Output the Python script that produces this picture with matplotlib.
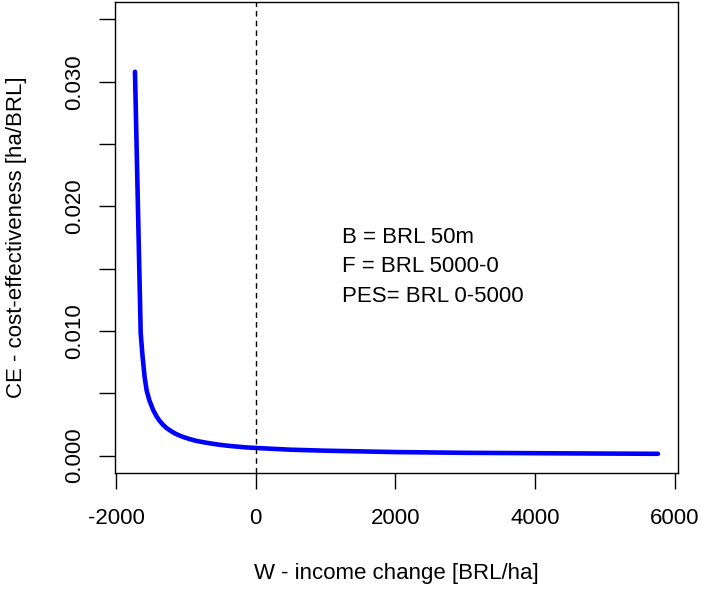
import matplotlib
matplotlib.use("Agg")
import matplotlib.pyplot as plt

plt.rcParams['font.family'] = ['Liberation Sans', 'DejaVu Sans']

# income change W [BRL/ha] and cost-effectiveness CE [ha/BRL]
income_change = [-1728, -1646, -1620, -1590, -1560, -1520, -1466, -1420, -1380, -1330,
                 -1274, -1200, -1150, -1100, -1036, -950, -850, -750, -653, -550,
                 -450, -350, -271, -150, 0, 500, 1000, 2000, 3000, 4000, 5000, 5760]
cost_eff = [0.0308, 0.0098, 0.0080, 0.0063, 0.0052, 0.0044, 0.00364, 0.00315, 0.00282,
            0.00249, 0.0022, 0.00192, 0.00176, 0.00163, 0.00149, 0.00133, 0.00118,
            0.00107, 0.00098, 0.00089, 0.00082, 0.00076, 0.00072, 0.00066, 0.00061,
            0.00047, 0.00039, 0.00028, 0.00022, 0.00019, 0.00016, 0.00014]

x_ticks = [-2000, 0, 2000, 4000, 6000]
y_ticks = [0.000, 0.005, 0.010, 0.015, 0.020, 0.025, 0.030, 0.035]
y_labels = ["0.000", "", "0.010", "", "0.020", "", "0.030", ""]
notes = ["B = BRL 50m", "F = BRL 5000-0", "PES= BRL 0-5000"]

fig = plt.figure(figsize=(7.01, 5.93), dpi=100)
ax = fig.add_axes([115 / 701, 1 - 473 / 593, (678 - 115) / 701, (473 - 2) / 593])

ax.plot(income_change, cost_eff, color='#0000FF', lw=3.3,
        solid_capstyle='round', solid_joinstyle='round')
ax.axvline(0, color='black', lw=1.0, ls=(0, (4, 3)))

# R-style limits: 4% padding on each side
ax.set_xlim(-2014, 6047)
ax.set_ylim(-0.0014, 0.0364)

ax.set_xticks(x_ticks)
ax.set_xticklabels([str(t) for t in x_ticks])
ax.set_yticks(y_ticks)
ax.set_yticklabels(y_labels, rotation=90, va='center')

ax.tick_params(axis='both', length=11.5, width=1.0, labelsize=16, direction='out')
ax.tick_params(axis='x', pad=14)
ax.tick_params(axis='y', pad=10)
for sp in ax.spines.values():
    sp.set_linewidth(1.0)

ax.set_xlabel("W - income change [BRL/ha]", fontsize=16, labelpad=24)
ax.set_ylabel("CE - cost-effectiveness [ha/BRL]", fontsize=16, labelpad=27)

for i, line in enumerate(notes):
    ax.text(1240, 0.0175 - i * 0.00236, line, fontsize=16, ha='left', va='center')

fig.savefig("out.png", dpi=100)
